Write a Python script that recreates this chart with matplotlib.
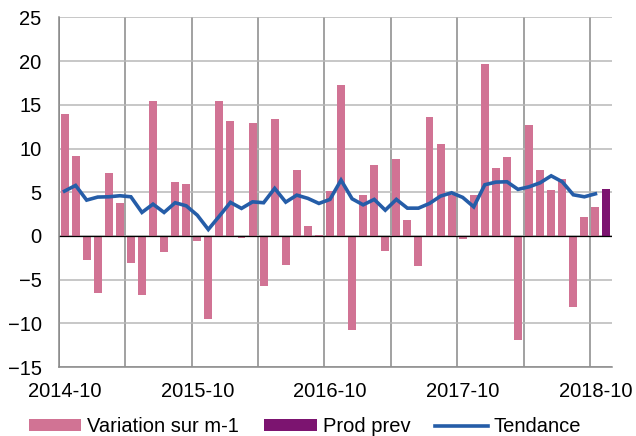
import matplotlib
matplotlib.use('Agg')
import matplotlib.pyplot as plt
import pandas as pd

plt.rcParams['font.family'] = ['Liberation Sans', 'DejaVu Sans']
plt.rcParams['font.size'] = 14.5

# mois : 2014-10 .. 2018-11 (dernier = prévision)
mois = pd.period_range('2014-10', periods=50, freq='M').strftime('%Y-%m').tolist()

variation = [13.9, 9.2, -2.7, -6.5, 7.2, 3.75, -3.1, -6.8, 15.4, -1.8,
             6.2, 6.0, -0.6, -9.5, 15.4, 13.2, -0.2, 12.9, -5.75, 13.4,
             -3.3, 7.5, 1.15, 0.1, 5.1, 17.3, -10.75, 4.7, 8.1, -1.75,
             8.8, 1.8, -3.4, 13.6, 10.5, 4.7, -0.4, 4.7, 19.7, 7.8,
             9.0, -11.9, 12.7, 7.5, 5.25, 6.5, -8.1, 2.2, 3.3]
prod_prev = [5.36]
tendance = [5.13, 5.78, 4.1, 4.45, 4.48, 4.6, 4.48, 2.69, 3.64, 2.69,
            3.8, 3.45, 2.38, 0.74, 2.27, 3.84, 3.15, 3.9, 3.8, 5.44,
            3.87, 4.67, 4.3, 3.72, 4.18, 6.39, 4.25, 3.56, 4.18, 2.95,
            4.18, 3.18, 3.18, 3.72, 4.56, 4.94, 4.41, 3.33, 5.86, 6.16,
            6.2, 5.33, 5.62, 6.08, 6.88, 6.2, 4.71, 4.48, 4.82]

ROSE = '#D17394'
VIOLET = '#7C1470'
BLEU = '#255DA8'

fig = plt.figure(figsize=(6.36, 4.36), dpi=100)
ax = fig.add_axes([59 / 636, 1 - 367 / 436, 553 / 636, 349.5 / 436])

n = len(variation)
x_var = list(range(n))
x_prev = list(range(n, n + len(prod_prev)))

b1 = ax.bar(x_var, variation, width=0.72, color=ROSE, label='Variation sur m-1', zorder=2)
b2 = ax.bar(x_prev, prod_prev, width=0.72, color=VIOLET, label='Prod prev', zorder=2)
l1, = ax.plot(x_var, tendance, color=BLEU, lw=2.6, label='Tendance', zorder=3,
              solid_joinstyle='miter')
ax.axhline(0, color='black', lw=0.9, zorder=2.5)

ax.set_xlim(-0.5, len(mois) - 0.5)
ax.set_ylim(-15, 25)
ax.set_yticks(range(-15, 26, 5))

ax.set_xticks(range(0, len(mois), 12))
ax.set_xticklabels([mois[i] for i in range(0, len(mois), 12)])
ax.set_xticks([i - 0.5 for i in range(0, len(mois), 6)], minor=True)

ax.grid(axis='y', which='major', color='#b8b8b8', lw=1.1, zorder=0)
ax.grid(axis='x', which='minor', color='#878787', lw=1.1, zorder=0)
ax.set_axisbelow(True)

ax.tick_params(axis='both', which='both', length=0)
ax.tick_params(axis='y', pad=12.5)
ax.tick_params(axis='x', pad=11)

for s in ['top', 'right']:
    ax.spines[s].set_visible(False)
for s in ['left', 'bottom']:
    ax.spines[s].set_color('#878787')
    ax.spines[s].set_linewidth(1.1)

fig.legend(handles=[b1, b2, l1], loc='center',
           bbox_to_anchor=(305 / 636, 1 - 426.5 / 436), ncol=3,
           frameon=False, handlelength=2.6, handleheight=0.5,
           columnspacing=1.25, handletextpad=0.3, borderpad=0)

fig.savefig('out.png', dpi=100)
